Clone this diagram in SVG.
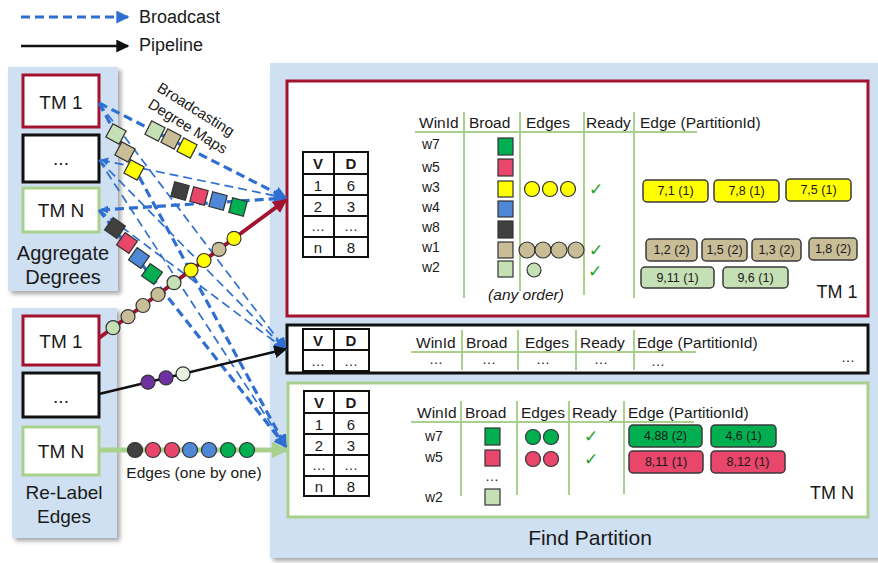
<svg xmlns="http://www.w3.org/2000/svg" width="878" height="563" viewBox="0 0 878 563">
<defs>
<style>
text{font-family:"Liberation Sans",Arial,sans-serif;fill:#1a1a1a}
.panel{fill:#cfe0f2;filter:url(#sh)}
.tm{fill:#fff;stroke-width:3}
.red{stroke:#a3122f}
.blk{stroke:#111}
.grn{stroke:#a9d18e}
.lbl{font-size:19px;text-anchor:middle;dominant-baseline:central}
.cap{font-size:20px;text-anchor:middle;dominant-baseline:central}
.bc{fill:none;stroke:#2e6fd1;stroke-dasharray:9 5}
.thick{stroke-width:3.2}
.thin{stroke-width:1.7}
.sq{stroke:#333;stroke-width:1.2}
.dot{stroke:#333;stroke-width:1.2}
.gl{stroke:#a9d18e;stroke-width:2;fill:none}
.hd{font-size:15.5px;dominant-baseline:central}
.wl{font-size:14px;dominant-baseline:central}
.pill{stroke:#3a3a3a;stroke-width:1.5}
.pt{font-size:12.5px;text-anchor:middle;dominant-baseline:central}
.vd{fill:#fff;stroke:#111;stroke-width:2}
.vt{font-size:15px;text-anchor:middle;dominant-baseline:central}
.vb{font-size:15px;font-weight:bold;text-anchor:middle;dominant-baseline:central}
.ell{font-size:14px;text-anchor:middle;dominant-baseline:central}
.chk{font-family:"DejaVu Sans",sans-serif;font-size:17px;fill:#26a126;text-anchor:middle;dominant-baseline:central}
.rot{font-size:15px;text-anchor:middle;dominant-baseline:central}
.cY{fill:#ffff00}.cT{fill:#c9bd97}.cL{fill:#c5e0b4}.cG{fill:#00b050}.cR{fill:#e8466a}.cB{fill:#4f88d6}.cK{fill:#404040}.cP{fill:#7030a0}.cW{fill:#e9f2e0}
</style>
<filter id="sh" x="-5%" y="-5%" width="115%" height="115%">
<feDropShadow dx="3" dy="3" stdDeviation="2" flood-color="#000" flood-opacity="0.35"/>
</filter>
<marker id="aBlue" viewBox="0 0 10 10" refX="9" refY="5" markerWidth="13" markerHeight="13" markerUnits="userSpaceOnUse" orient="auto">
<path d="M0,0 L10,5 L0,10 z" fill="#2e6fd1"/>
</marker>
<marker id="aBlueS" viewBox="0 0 10 10" refX="1" refY="5" markerWidth="8" markerHeight="8" markerUnits="userSpaceOnUse" orient="auto">
<path d="M10,0 L0,5 L10,10 z" fill="#2e6fd1"/>
</marker>
<marker id="aRed" viewBox="0 0 10 10" refX="9" refY="5" markerWidth="14" markerHeight="14" markerUnits="userSpaceOnUse" orient="auto">
<path d="M0,0 L10,5 L0,10 z" fill="#a3122f"/>
</marker>
<marker id="aBlack" viewBox="0 0 10 10" refX="9" refY="5" markerWidth="13" markerHeight="13" markerUnits="userSpaceOnUse" orient="auto">
<path d="M0,0 L10,5 L0,10 z" fill="#111"/>
</marker>
<marker id="aGreen" viewBox="0 0 10 10" refX="9" refY="5" markerWidth="17" markerHeight="17" markerUnits="userSpaceOnUse" orient="auto">
<path d="M0,0 L10,5 L0,10 z" fill="#a9d18e"/>
</marker>
</defs>

<rect width="878" height="563" fill="#fff"/>

<!-- legend -->
<g id="legend">
<line x1="21" y1="17" x2="128" y2="17" class="bc thick" marker-end="url(#aBlue)"/>
<text x="139" y="17" font-size="18" dominant-baseline="central">Broadcast</text>
<line x1="21" y1="46" x2="128" y2="46" stroke="#111" stroke-width="2.5" marker-end="url(#aBlack)"/>
<text x="139" y="45" font-size="18" dominant-baseline="central">Pipeline</text>
</g>

<!-- stage panels -->
<g id="aggregate-degrees">
<rect class="panel" x="8" y="67" width="110" height="224"/>
<g id="agg-tm1"><rect class="tm red" x="23" y="75" width="76" height="52"/><text class="lbl" x="61" y="102">TM 1</text></g>
<g id="agg-tmx"><rect class="tm blk" x="23" y="135" width="76" height="47"/><text class="lbl" x="61" y="158">...</text></g>
<g id="agg-tmn"><rect class="tm grn" x="23" y="188" width="76" height="44"/><text class="lbl" x="61" y="210">TM N</text></g>
<text class="cap" x="63" y="253">Aggregate</text>
<text class="cap" x="63" y="277">Degrees</text>
</g>

<g id="relabel-edges">
<rect class="panel" x="12" y="308" width="105" height="230"/>
<g id="rl-tm1"><rect class="tm red" x="23" y="316" width="76" height="49"/><text class="lbl" x="61" y="341">TM 1</text></g>
<g id="rl-tmx"><rect class="tm blk" x="23" y="373" width="76" height="44"/><text class="lbl" x="61" y="396">...</text></g>
<g id="rl-tmn"><rect class="tm grn" x="23" y="427" width="76" height="48"/><text class="lbl" x="61" y="451">TM N</text></g>
<text class="lbl" x="64" y="492">Re-Label</text>
<text class="lbl" x="64" y="516">Edges</text>
</g>

<g id="find-partition">
<rect class="panel" x="270" y="63" width="612" height="495"/>
<text x="590" y="537" font-size="21" text-anchor="middle" dominant-baseline="central">Find Partition</text>

<!-- TM 1 -->
<g id="fp-tm1">
<rect class="tm red" x="287" y="81" width="581" height="235"/>
<g id="fp-tm1-vd">
<rect class="vd" x="303" y="152" width="65" height="105"/>
<path d="M303,174H368M303,195H368M303,216H368M303,237H368M334,152V257" stroke="#111" stroke-width="2"/>
<text class="vb" x="318" y="163">V</text><text class="vb" x="351" y="163">D</text>
<text class="vt" x="318" y="185">1</text><text class="vt" x="351" y="185">6</text>
<text class="vt" x="318" y="206">2</text><text class="vt" x="351" y="206" font-size="13">3</text>
<text class="ell" x="318" y="226">…</text><text class="ell" x="351" y="226">…</text>
<text class="vt" x="318" y="247">n</text><text class="vt" x="351" y="247" font-size="13">8</text>
</g>
<path class="gl" d="M415,132H697M464,112V298M520,112V291M584,112V295M634,112V298"/>
<text class="hd" x="419" y="122">WinId</text>
<text class="hd" x="469" y="122">Broad</text>
<text class="hd" x="526" y="122">Edges</text>
<text class="hd" x="586" y="122">Ready</text>
<text class="hd" x="640" y="122">Edge (PartitionId)</text>
<text class="wl" x="422" y="144">w7</text>
<text class="wl" x="422" y="167">w5</text>
<text class="wl" x="422" y="187">w3</text>
<text class="wl" x="422" y="207">w4</text>
<text class="wl" x="422" y="227">w8</text>
<text class="wl" x="422" y="247">w1</text>
<text class="wl" x="422" y="267">w2</text>
<rect class="sq cG" x="498" y="138" width="15" height="17"/>
<rect class="sq cR" x="498" y="159" width="15" height="17"/>
<rect class="sq cY" x="498" y="181" width="15" height="16"/>
<rect class="sq cB" x="498" y="201" width="15" height="16"/>
<rect class="sq cK" x="498" y="221" width="15" height="17"/>
<rect class="sq cT" x="498" y="242" width="15" height="16"/>
<rect class="sq cL" x="498" y="261" width="15" height="16"/>
<circle class="dot cY" cx="532" cy="189" r="7.5"/>
<circle class="dot cY" cx="550" cy="189" r="7.5"/>
<circle class="dot cY" cx="568" cy="189" r="7.5"/>
<circle class="dot cT" cx="527" cy="250" r="8"/>
<circle class="dot cT" cx="543" cy="250" r="8"/>
<circle class="dot cT" cx="559" cy="250" r="8"/>
<circle class="dot cT" cx="576" cy="250" r="8"/>
<circle class="dot cL" cx="534" cy="270" r="7"/>
<text class="chk" x="596" y="189">✓</text>
<text class="chk" x="596" y="250">✓</text>
<text class="chk" x="595" y="271">✓</text>
<text x="526" y="294" font-size="15.5" font-style="italic" text-anchor="middle" dominant-baseline="central">(any order)</text>
<rect class="pill cY" x="643" y="180" width="65" height="22" rx="4"/><text class="pt" x="675.5" y="191">7,1 (1)</text>
<rect class="pill cY" x="714" y="180" width="65" height="22" rx="4"/><text class="pt" x="746.5" y="191">7,8 (1)</text>
<rect class="pill cY" x="786" y="179" width="65" height="22" rx="4"/><text class="pt" x="818.5" y="190">7,5 (1)</text>
<rect class="pill cT" x="646" y="239" width="51" height="22" rx="4"/><text class="pt" x="671.5" y="250">1,2 (2)</text>
<rect class="pill cT" x="702" y="239" width="45" height="22" rx="4"/><text class="pt" x="724.5" y="250">1,5 (2)</text>
<rect class="pill cT" x="752" y="239" width="49" height="22" rx="4"/><text class="pt" x="776.5" y="250">1,3 (2)</text>
<rect class="pill cT" x="809" y="238" width="48" height="22" rx="4"/><text class="pt" x="833" y="249">1,8 (2)</text>
<rect class="pill cL" x="641" y="267" width="73" height="21" rx="4"/><text class="pt" x="677.5" y="277.5">9,11 (1)</text>
<rect class="pill cL" x="723" y="267" width="65" height="21" rx="4"/><text class="pt" x="755.5" y="277.5">9,6 (1)</text>
<text x="837" y="292" font-size="18" text-anchor="middle" dominant-baseline="central">TM 1</text>
</g>

<!-- middle TM -->
<g id="fp-tmx">
<rect class="tm blk" x="287" y="325" width="581" height="48"/>
<rect class="vd" x="303" y="329" width="66" height="42"/>
<path d="M303,350H369M334,329V371" stroke="#111" stroke-width="2"/>
<text class="vb" x="318" y="340">V</text><text class="vb" x="351" y="340">D</text>
<text class="ell" x="318" y="361">…</text><text class="ell" x="351" y="361">…</text>
<path class="gl" d="M411,352H696M462,330V370M518,330V370M576,330V370M634,330V370"/>
<text class="hd" x="416" y="342">WinId</text>
<text class="hd" x="466" y="342">Broad</text>
<text class="hd" x="525" y="342">Edges</text>
<text class="hd" x="580" y="342">Ready</text>
<text class="hd" x="637" y="342">Edge (PartitionId)</text>
<text class="ell" x="436" y="359">…</text>
<text class="ell" x="489" y="359">…</text>
<text class="ell" x="543" y="359">…</text>
<text class="ell" x="601" y="359">…</text>
<text class="ell" x="658" y="361">…</text>
<text class="ell" x="848" y="357">…</text>
</g>

<!-- TM N -->
<g id="fp-tmn">
<rect class="tm grn" x="288" y="383" width="580" height="134"/>
<rect class="vd" x="304" y="391" width="65" height="105"/>
<path d="M304,413H369M304,434H369M304,455H369M304,476H369M334,391V496" stroke="#111" stroke-width="2"/>
<text class="vb" x="319" y="402">V</text><text class="vb" x="351" y="402">D</text>
<text class="vt" x="319" y="424">1</text><text class="vt" x="351" y="424">6</text>
<text class="vt" x="319" y="445">2</text><text class="vt" x="351" y="445" font-size="13">3</text>
<text class="ell" x="319" y="465">…</text><text class="ell" x="351" y="465">…</text>
<text class="vt" x="319" y="486">n</text><text class="vt" x="351" y="486">8</text>
<path class="gl" d="M411,422H694M461,401V496M517,401V495M569,401V495M624,401V494"/>
<text class="hd" x="417" y="412">WinId</text>
<text class="hd" x="465" y="412">Broad</text>
<text class="hd" x="521" y="412">Edges</text>
<text class="hd" x="572" y="412">Ready</text>
<text class="hd" x="628" y="412">Edge (PartitionId)</text>
<text class="wl" x="425" y="436">w7</text>
<text class="wl" x="425" y="457">w5</text>
<text class="ell" x="492" y="476">…</text>
<text class="wl" x="425" y="497">w2</text>
<rect class="sq cG" x="485" y="428" width="15" height="17"/>
<rect class="sq cR" x="485" y="450" width="15" height="16"/>
<rect class="sq cL" x="485" y="489" width="15" height="16"/>
<circle class="dot cG" cx="533" cy="437" r="7.5"/>
<circle class="dot cG" cx="551" cy="437" r="7.5"/>
<circle class="dot cR" cx="533" cy="459" r="7.5"/>
<circle class="dot cR" cx="551" cy="459" r="7.5"/>
<text class="chk" x="591" y="436">✓</text>
<text class="chk" x="591" y="459">✓</text>
<rect class="pill cG" x="629" y="425" width="73" height="22" rx="4"/><text class="pt" x="665.5" y="436">4,88 (2)</text>
<rect class="pill cG" x="711" y="425" width="65" height="22" rx="4"/><text class="pt" x="743.5" y="436">4,6 (1)</text>
<rect class="pill cR" x="629" y="451" width="74" height="22" rx="4"/><text class="pt" x="666" y="462">8,11 (1)</text>
<rect class="pill cR" x="711" y="451" width="74" height="22" rx="4"/><text class="pt" x="748" y="462">8,12 (1)</text>
<text x="832" y="493" font-size="18" text-anchor="middle" dominant-baseline="central">TM N</text>
</g>
</g>

<!-- connectors -->
<g id="connectors">
<!-- broadcast of degree maps: every aggregating TM to every partitioning TM -->
<line class="bc thick" x1="99" y1="103" x2="286" y2="198" marker-end="url(#aBlue)"/>
<line class="bc thin" x1="99" y1="103" x2="286" y2="350" marker-end="url(#aBlue)"/>
<line class="bc thick" x1="99" y1="103" x2="286" y2="447" marker-end="url(#aBlue)"/>
<line class="bc thin" x1="101" y1="160" x2="286" y2="198" marker-start="url(#aBlueS)" marker-end="url(#aBlue)"/>
<line class="bc thin" x1="99" y1="160" x2="286" y2="350" marker-end="url(#aBlue)"/>
<line class="bc thin" x1="99" y1="160" x2="286" y2="447" marker-end="url(#aBlue)"/>
<line class="bc thick" x1="101" y1="210" x2="286" y2="198" marker-start="url(#aBlueS)" marker-end="url(#aBlue)"/>
<line class="bc thin" x1="99" y1="210" x2="286" y2="350" marker-end="url(#aBlue)"/>
<line class="bc thick" x1="99" y1="210" x2="286" y2="447" marker-end="url(#aBlue)"/>

<!-- degree-map squares in flight -->
<g id="maps-a">
<rect class="sq cL" x="-7.5" y="-7.5" width="15" height="15" transform="translate(155,131) rotate(27)"/>
<rect class="sq cT" x="-7.5" y="-7.5" width="15" height="15" transform="translate(171,139) rotate(27)"/>
<rect class="sq cY" x="-7.5" y="-7.5" width="15" height="15" transform="translate(187,148) rotate(27)"/>
</g>
<g id="maps-b">
<rect class="sq cL" x="-7.5" y="-7.5" width="15" height="15" transform="translate(116,134) rotate(28)"/>
<rect class="sq cT" x="-7.5" y="-7.5" width="15" height="15" transform="translate(125,152) rotate(28)"/>
<rect class="sq cY" x="-7.5" y="-7.5" width="15" height="15" transform="translate(134,170) rotate(28)"/>
</g>
<g id="maps-c">
<rect class="sq cK" x="-7.5" y="-7.5" width="15" height="15" transform="translate(180,191) rotate(15)"/>
<rect class="sq cR" x="-7.5" y="-7.5" width="15" height="15" transform="translate(199,196) rotate(15)"/>
<rect class="sq cB" x="-7.5" y="-7.5" width="15" height="15" transform="translate(218,201) rotate(15)"/>
<rect class="sq cG" x="-7.5" y="-7.5" width="15" height="15" transform="translate(238,207) rotate(15)"/>
</g>
<g id="maps-d">
<rect class="sq cK" x="-7.5" y="-7.5" width="15" height="15" transform="translate(115,228) rotate(35)"/>
<rect class="sq cR" x="-7.5" y="-7.5" width="15" height="15" transform="translate(127,243) rotate(35)"/>
<rect class="sq cB" x="-7.5" y="-7.5" width="15" height="15" transform="translate(139,258) rotate(35)"/>
<rect class="sq cG" x="-7.5" y="-7.5" width="15" height="15" transform="translate(152,274) rotate(35)"/>
</g>

<text class="rot" transform="translate(196,109) rotate(32)">Broadcasting</text>
<text class="rot" transform="translate(188,126) rotate(32)">Degree Maps</text>

<!-- pipelined edges -->
<line x1="99" y1="338" x2="286" y2="200" stroke="#a3122f" stroke-width="4" marker-end="url(#aRed)"/>
<g id="edges-tm1">
<circle class="dot cL" cx="113" cy="327.7" r="7"/>
<circle class="dot cT" cx="128" cy="316.6" r="7"/>
<circle class="dot cT" cx="143" cy="305.5" r="7"/>
<circle class="dot cT" cx="158" cy="294.5" r="7"/>
<circle class="dot cL" cx="174" cy="282.7" r="7"/>
<circle class="dot cY" cx="191" cy="270.1" r="7"/>
<circle class="dot cY" cx="204" cy="260.5" r="7"/>
<circle class="dot cT" cx="219" cy="249.4" r="7"/>
<circle class="dot cY" cx="234" cy="238.4" r="7"/>
</g>
<line x1="99" y1="394" x2="286" y2="349" stroke="#111" stroke-width="2.5" marker-end="url(#aBlack)"/>
<g id="edges-tmx">
<circle class="dot cP" cx="148" cy="382.2" r="7"/>
<circle class="dot cP" cx="166" cy="377.9" r="7"/>
<circle class="dot cW" cx="183" cy="373.8" r="7"/>
</g>
<line x1="99" y1="450" x2="287" y2="450" stroke="#a9d18e" stroke-width="5" marker-end="url(#aGreen)"/>
<g id="edges-tmn">
<circle class="dot cK" cx="135" cy="450" r="7.5"/>
<circle class="dot cR" cx="153" cy="450" r="7.5"/>
<circle class="dot cR" cx="172" cy="450" r="7.5"/>
<circle class="dot cB" cx="190" cy="450" r="7.5"/>
<circle class="dot cB" cx="209" cy="450" r="7.5"/>
<circle class="dot cG" cx="228" cy="450" r="7.5"/>
<circle class="dot cG" cx="247" cy="450" r="7.5"/>
</g>
<text x="194" y="472" font-size="15.5" text-anchor="middle" dominant-baseline="central">Edges (one by one)</text>
</g>
</svg>
